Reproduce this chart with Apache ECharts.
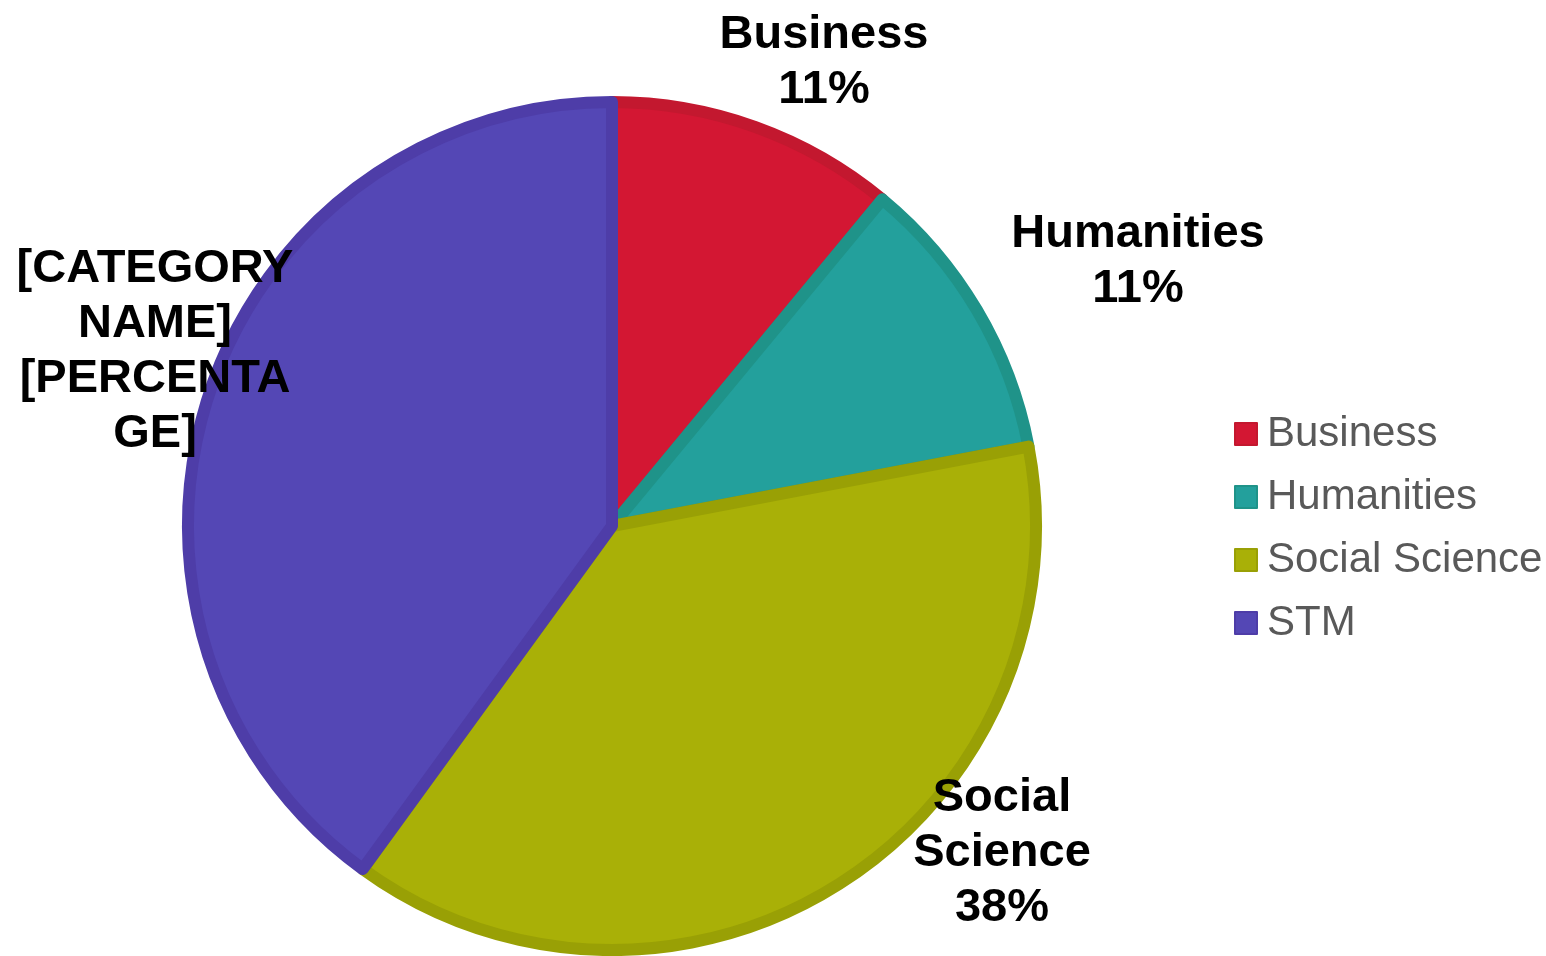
<!DOCTYPE html>
<html>
<head>
<meta charset="utf-8">
<script src="https://cdn.jsdelivr.net/npm/echarts@6/dist/echarts.min.js"></script>
<style>
html,body{margin:0;padding:0;background:#fff;}
#chart{width:1546px;height:956px;}
</style>
</head>
<body>
<div id="chart"></div>
<script>
const categories = ['Business', 'Humanities', 'Social Science', 'STM'];
const values = [11, 11, 38, 40];
const labelTexts = ['Business\n11%', 'Humanities\n11%', 'Social\nScience\n38%', '[CATEGORY\nNAME]\n[PERCENTA\nGE]'];
const fillColors = ['#D31733', '#23A09C', '#A9B007', '#5447B5'];
const borderColors = ['#C3182F', '#1F9389', '#99A005', '#4E3DA8'];
const labelPos = [[824, 63], [1138, 262], [1002, 853], [155, 352]];

const chart = echarts.init(document.getElementById('chart'), null, {renderer: 'canvas'});
chart.setOption({
  animation: false,
  legend: {
    orient: 'vertical',
    left: 1234,
    top: 413,
    padding: 0,
    itemWidth: 22,
    itemHeight: 22,
    itemGap: 21,
    icon: 'rect',
    textStyle: {fontFamily: 'Liberation Sans, Arial, sans-serif', fontSize: 42, color: '#595959', lineHeight: 42, padding: [0,0,0,5]},
    data: categories
  },
  series: [{
    type: 'pie',
    center: [612, 526],
    radius: 424,
    startAngle: 90,
    clockwise: true,
    data: categories.map((c, i) => ({
      name: c,
      value: values[i],
      itemStyle: {color: fillColors[i], borderColor: borderColors[i], borderWidth: 12},
      label: {formatter: labelTexts[i]}
    })),
    label: {
      show: true,
      position: 'inside',
      color: '#000',
      fontFamily: 'Liberation Sans, Arial, sans-serif',
      fontWeight: 'bold',
      fontSize: 47,
      lineHeight: 55,
      align: 'center'
    },
    labelLine: {show: false},
    labelLayout: function (p) {
      const pos = labelPos[p.dataIndex];
      return {x: pos[0], y: pos[1], align: 'center', verticalAlign: 'middle'};
    },
    emphasis: {disabled: true}
  }]
});
</script>
</body>
</html>
